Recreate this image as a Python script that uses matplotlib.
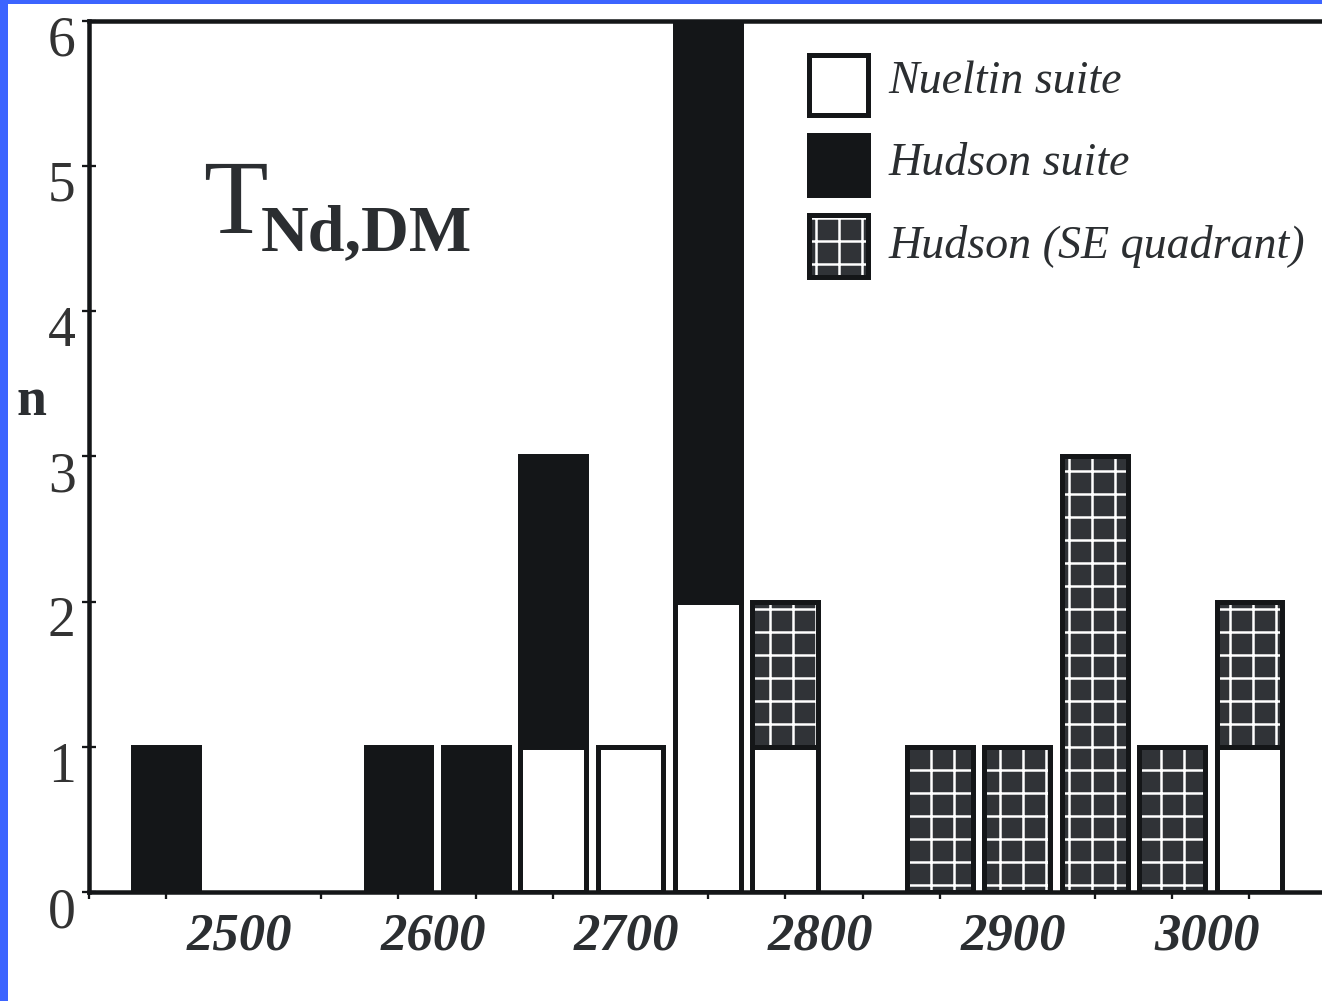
import numpy as np
import matplotlib
matplotlib.use("Agg")
import matplotlib.pyplot as plt
from matplotlib.patches import Rectangle
from matplotlib.transforms import ScaledTranslation

# ---- data ----
bin_centers = [2460, 2500, 2540, 2580, 2620, 2660, 2700, 2740, 2780, 2820, 2860, 2900, 2940, 2980, 3020]
nueltin     = [0, 0, 0, 0, 0, 1, 1, 2, 1, 0, 0, 0, 0, 0, 1]
hudson      = [1, 0, 0, 1, 1, 2, 0, 4, 0, 0, 0, 0, 0, 0, 0]
hudson_se   = [0, 0, 0, 0, 0, 0, 0, 0, 1, 0, 1, 1, 3, 1, 1]
x_labels    = [2500, 2600, 2700, 2800, 2900, 3000]
y_ticks     = [0, 1, 2, 3, 4, 5, 6]
legend_labels = ["Nueltin suite", "Hudson suite", "Hudson (SE quadrant)"]

DPI = 138
W, H = 1322, 1001
plt.rcParams['font.family'] = ['Liberation Serif', 'DejaVu Serif']
plt.rcParams['hatch.linewidth'] = 1.3

BLACK = '#141618'
GRID = '#303337'
TXT = '#2b2e31'
BLUE = '#3c64ff'
LW = 2.6

fig = plt.figure(figsize=(W / DPI, H / DPI), dpi=DPI, facecolor='white')

def fx(px):
    return px / W

def fy(py):
    return 1 - py / H

left_px, right_px, bottom_px, top_px = 89, 1322, 892, 20.5
ax = fig.add_axes([fx(left_px), fy(bottom_px), fx(right_px - left_px), (bottom_px - top_px) / H])

x = np.array(bin_centers, dtype=float)
nue = np.array(nueltin, dtype=float)
hud = np.array(hudson, dtype=float)
se = np.array(hudson_se, dtype=float)
bw = 34

# Hudson suite (black), stacked on Nueltin
m = hud > 0
ax.bar(x[m], hud[m], bottom=nue[m], width=bw, color=BLACK, edgecolor=BLACK, linewidth=LW, zorder=2)
# Nueltin (white)
m = nue > 0
ax.bar(x[m], nue[m], width=bw, color='white', edgecolor=BLACK, linewidth=LW, zorder=3)
# Hudson SE quadrant (grid)
m = se > 0
ax.bar(x[m], se[m], bottom=nue[m], width=bw, color=GRID, edgecolor='white', hatch='+', linewidth=0, zorder=2)
ax.bar(x[m], se[m], bottom=nue[m], width=bw, fill=False, edgecolor=BLACK, linewidth=LW, zorder=3)

ax.set_xlim(2420, 2420 + (right_px - left_px) / (77.36 / 40))
ax.set_ylim(0, 6)

for s in ['left', 'bottom', 'top']:
    ax.spines[s].set_linewidth(2.35)
    ax.spines[s].set_color(BLACK)
ax.spines['right'].set_visible(False)

ax.set_xticks(x_labels)
ax.set_xticklabels([str(v) for v in x_labels], fontsize=27.5, fontweight='bold', fontstyle='italic', color=TXT)
ax.set_xticks(np.arange(2420, 3060, 40), minor=True)
ax.tick_params(axis='x', which='major', length=0, pad=10.5)
ax.tick_params(axis='x', which='minor', direction='out', length=3.8, width=1.2, color=BLACK)
xoff = ScaledTranslation(-4 / DPI, 0, fig.dpi_scale_trans)
for lab in ax.get_xticklabels():
    lab.set_transform(lab.get_transform() + xoff)

ax.set_yticks(y_ticks)
ax.set_yticklabels([str(v) for v in y_ticks], fontsize=29, color='#333333')
ax.tick_params(axis='y', direction='inout', length=7.8, width=1.2, color=BLACK, pad=3)
yoff = ScaledTranslation(0, -15 / DPI, fig.dpi_scale_trans)
for lab in ax.get_yticklabels():
    lab.set_transform(lab.get_transform() + yoff)

# y label "n"
fig.text(fx(31), fy(415), "n", fontsize=28, fontweight='bold', color=TXT, ha='center', va='baseline')

# T_Nd,DM annotation
fig.text(fx(203), fy(233), "T", fontsize=55, color=TXT, ha='left', va='baseline')
fig.text(fx(261), fy(250), "Nd,DM", fontsize=34.5, fontweight='bold', color=TXT, ha='left', va='baseline')

# legend (manual)
leg_boxes = [(52, 117), (132, 197), (213, 279)]
leg_base = [93, 175, 258]
styles = [dict(facecolor='white', edgecolor=BLACK),
          dict(facecolor=BLACK, edgecolor=BLACK),
          dict(facecolor=GRID, edgecolor=BLACK)]
for (t, b), base, lab, st in zip(leg_boxes, leg_base, legend_labels, styles):
    x0, x1 = 808.5, 867.5
    y0, y1 = t + 2.5, b - 2.5
    if lab.endswith('quadrant)'):
        fig.patches.append(Rectangle((fx(x0), fy(y1)), fx(x1 - x0), (y1 - y0) / H, transform=fig.transFigure,
                                     facecolor=GRID, edgecolor='white', hatch='+', linewidth=0))
        fig.patches.append(Rectangle((fx(x0), fy(y1)), fx(x1 - x0), (y1 - y0) / H, transform=fig.transFigure,
                                     fill=False, edgecolor=BLACK, linewidth=LW))
    else:
        fig.patches.append(Rectangle((fx(x0), fy(y1)), fx(x1 - x0), (y1 - y0) / H, transform=fig.transFigure,
                                     linewidth=LW, **st))
    fig.text(fx(888), fy(base), lab, fontsize=24, fontstyle='italic', color=TXT, ha='left', va='baseline')

# blue frame strips
fig.patches.append(Rectangle((0, 0), fx(8), 1, transform=fig.transFigure, facecolor=BLUE, edgecolor='none', zorder=10))
fig.patches.append(Rectangle((0, fy(4)), 1, 4 / H, transform=fig.transFigure, facecolor=BLUE, edgecolor='none', zorder=10))

fig.savefig("out.png", dpi=DPI, facecolor='white')
